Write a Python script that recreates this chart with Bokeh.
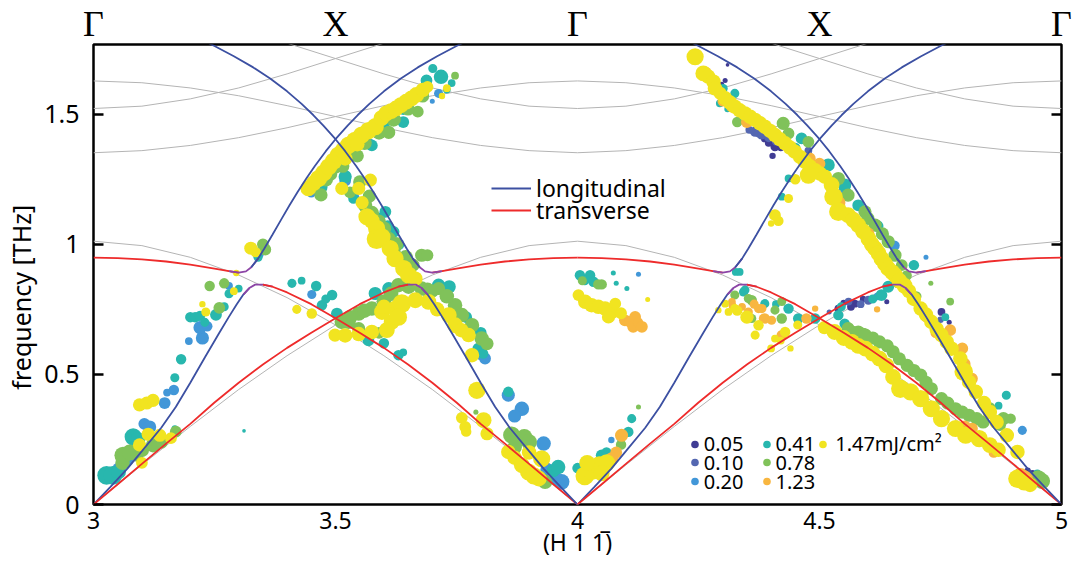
from bokeh.plotting import figure
from bokeh.models import (ColumnDataSource, Range1d, LinearAxis, FixedTicker, Legend, LegendItem)
from bokeh.embed import file_html
from bokeh.resources import INLINE

# ---------------- ticks / labels ----------------
y_ticks = [0, 0.5, 1, 1.5]
y_tick_labels = ["0", "0.5", "1", "1.5"]
x_ticks = [3, 3.5, 4, 4.5, 5]
x_tick_labels = ["3", "3.5", "4", "4.5", "5"]
top_labels = ["Γ", "X", "Γ", "X", "Γ"]
y_title = "frequency [THz]"
x_title = "(H 1 1\u0305)"
cell_starts = [3, 4]          # each Γ-X-Γ cell; model curves repeat in each cell

# ---------------- model dispersion curves (u = H - cell start) ----------------
low_u = [0, 0.035, 0.07, 0.10, 0.14, 0.17, 0.20, 0.23, 0.26, 0.28, 0.296, 0.31, 0.322, 0.334,
         0.35, 0.37, 0.40, 0.45, 0.50, 0.55, 0.60, 0.65, 0.70, 0.75, 0.80, 0.85, 0.90, 0.95, 1.0]
low_f = [0, 0.068, 0.138, 0.205, 0.295, 0.375, 0.468, 0.565, 0.66, 0.722, 0.77, 0.808, 0.832, 0.845,
         0.845, 0.837, 0.815, 0.77, 0.716, 0.66, 0.602, 0.538, 0.468, 0.392, 0.31, 0.234, 0.156, 0.078, 0]
up_u = [0, 0.05, 0.10, 0.15, 0.20, 0.25, 0.28, 0.30, 0.315, 0.326, 0.34, 0.353, 0.37, 0.388, 0.405,
        0.422, 0.44, 0.457, 0.48, 0.50, 0.525, 0.546, 0.57, 0.60, 0.635, 0.67, 0.71, 0.75, 0.78]
up_f = [0.949, 0.947, 0.942, 0.934, 0.922, 0.907, 0.897, 0.891, 0.896, 0.912, 0.945, 0.984, 1.038,
        1.096, 1.15, 1.202, 1.254, 1.30, 1.358, 1.404, 1.456, 1.497, 1.54, 1.588, 1.637, 1.68,
        1.723, 1.762, 1.79]
g_u = [0, 0.1, 0.2, 0.3, 0.4, 0.5, 0.6, 0.7, 0.8, 0.9, 1.0]
g_low_f = [0, 0.152, 0.30, 0.442, 0.572, 0.69, 0.795, 0.882, 0.95, 0.995, 1.012]
g_mid_f = [1.628, 1.621, 1.601, 1.571, 1.533, 1.491, 1.448, 1.41, 1.38, 1.36, 1.352]
g_top_u = [0, 0.1, 0.2, 0.3, 0.4, 0.5, 0.6, 0.7]
g_top_f = [1.522, 1.531, 1.559, 1.601, 1.655, 1.714, 1.773, 1.827]

# ---------------- measured points (H, frequency THz, relative marker size) ----------------
pts_005 = [(4.387,1.407,5),(4.408,1.375,6),(4.403,1.34,4),(4.44,1.36,4),(4.455,1.35,3),(4.305,1.63,3),
           (4.31,1.69,2),(4.298,1.615,3),(4.539,0.753,5),(4.573,0.772,5),(4.55,0.775,4),(4.59,0.79,4),
           (4.639,0.779,3),(4.565,0.76,5),(4.752,0.74,5),(4.76,0.72,4),(4.768,0.70,3),(4.94,0.118,5),
           (4.93,0.13,4),(4.395,1.39,5),(4.42,1.37,4)]
pts_010 = [(4.367,1.433,7),(4.375,1.43,7),(4.395,1.41,6),(4.41,1.395,5),(4.477,1.36,5),(4.46,1.345,4),
           (4.601,0.785,6),(4.56,0.78,5),(4.585,0.77,5),(4.743,0.689,5),(4.75,0.71,4),(4.52,0.74,3),
           (4.91,0.12,4),(4.38,1.42,6),(4.355,1.44,5)]
pts_020 = [(3.05,0.14,7),(3.07,0.17,8),(3.105,0.31,8),(3.116,0.298,9),(3.147,0.39,8),(3.152,0.43,5),
           (3.166,0.44,7),(3.197,0.628,5),(3.225,0.64,9),(3.22,0.68,9),(3.235,0.685,7),(3.26,0.75,6),
           (3.28,0.84,5),(3.34,0.965,8),(3.45,1.20,7),(3.47,1.21,6),(3.52,1.245,8),(3.54,1.18,6),
           (3.568,1.39,7),(3.70,1.55,3),(3.713,1.58,6),(3.451,0.807,6),(3.809,0.561,8),(3.80,0.575,7),
           (3.857,0.42,9),(3.885,0.368,10),(3.87,0.34,9),(3.93,0.234,10),(3.937,0.135,9),(3.967,0.087,11),
           (3.955,0.10,9),(4.07,0.248,4),(4.126,0.885,3),(4.55,1.20,8),(4.695,0.92,6),(4.72,0.95,3),
           (4.919,0.285,6),(4.62,0.80,5),(4.655,0.995,7)]
pts_041 = [(3.027,0.112,13),(3.04,0.112,13),(3.052,0.125,10),(3.082,0.26,12),(3.092,0.25,10),(3.168,0.292,4),
           (3.168,0.487,6),(3.181,0.558,7),(3.20,0.72,7),(3.21,0.72,7),(3.22,0.725,7),(3.23,0.70,6),
           (3.253,0.729,8),(3.27,0.76,6),(3.28,0.81,6),(3.30,0.83,5),(3.311,0.283,2),(3.34,0.95,6),
           (3.47,1.22,9),(3.50,1.33,7),(3.54,1.37,8),(3.56,1.40,8),(3.60,1.46,8),(3.64,1.52,8),
           (3.66,1.56,7),(3.68,1.575,8),(3.688,1.63,8),(3.701,1.676,6),(3.718,1.644,10),(3.73,1.595,5),
           (3.74,1.62,5),(3.52,1.26,9),(3.537,1.176,7),(3.603,1.125,8),(3.62,1.048,8),(3.63,1.0,8),
           (3.645,0.93,7),(3.41,0.85,6),(3.43,0.86,5),(3.46,0.84,7),(3.472,0.766,7),(3.48,0.79,6),
           (3.493,0.805,7),(3.503,0.734,8),(3.568,0.631,8),(3.60,0.62,7),(3.63,0.574,7),(3.64,0.585,5),
           (3.582,0.811,9),(3.61,0.83,9),(3.713,0.843,9),(3.735,0.837,9),(3.795,0.599,8),(3.805,0.58,7),
           (3.857,0.433,7),(3.95,0.13,9),(3.96,0.144,10),(4.0,0.14,7),(4.005,0.881,7),(4.015,0.86,6),
           (4.026,0.881,7),(4.033,0.856,7),(4.05,0.189,8),(4.06,0.20,7),(4.074,0.89,3),(4.08,0.85,3),
           (4.09,0.26,7),(4.102,0.83,3),(4.105,0.279,7),(4.112,0.33,6),(4.327,0.894,5),(4.335,0.894,5),
           (4.343,0.817,6),(4.346,0.824,6),(4.387,0.772,6),(4.41,0.77,5),(4.436,0.753,7),(4.456,0.715,7),
           (4.491,0.715,7),(4.539,0.728,7),(4.545,0.76,6),(4.552,0.695,7),(4.61,0.79,6),(4.628,0.805,8),
           (4.642,0.837,8),(4.66,0.85,6),(4.294,1.542,5),(4.301,1.599,6),(4.31,1.52,4),(4.325,1.58,6),
           (4.422,1.183,5),(4.436,1.253,5),(4.45,1.37,7),(4.463,1.407,8),(4.518,1.305,9),(4.552,1.228,9),
           (4.58,1.15,8),(4.62,1.07,8),(4.695,0.92,7),(4.74,0.69,6),(4.76,0.72,5),(4.87,0.38,5),
           (4.886,0.42,6),(4.95,0.12,5),(3.575,1.38,8),(3.64,1.47,8),(3.59,1.10,8),(3.608,1.07,8),
           (3.77,0.72,8),(3.80,0.66,8)]
pts_078 = [(3.06,0.16,10),(3.061,0.189,12),(3.075,0.20,11),(3.09,0.19,9),(3.10,0.21,10),(3.123,0.228,10),
           (3.14,0.24,9),(3.17,0.28,8),(3.26,0.756,8),(3.24,0.84,7),(3.27,0.85,7),(3.35,1.0,8),
           (3.355,0.98,8),(3.47,1.19,9),(3.48,1.25,10),(3.50,1.30,10),(3.53,1.35,10),(3.56,1.39,10),
           (3.59,1.43,10),(3.62,1.48,10),(3.65,1.52,9),(3.68,1.57,9),(3.747,1.648,5),(3.53,1.20,8),
           (3.55,1.24,9),(3.561,1.151,10),(3.575,1.12,10),(3.589,1.087,10),(3.60,1.06,10),(3.61,1.02,10),
           (3.62,0.97,10),(3.634,0.933,10),(3.65,0.90,9),(3.678,0.958,9),(3.69,0.958,8),(3.513,0.702,10),
           (3.527,0.702,10),(3.548,0.734,10),(3.548,0.676,9),(3.575,0.753,10),(3.59,0.66,8),(3.60,0.78,10),
           (3.63,0.843,10),(3.651,0.837,10),(3.678,0.83,10),(3.70,0.82,9),(3.713,0.83,9),(3.747,0.766,10),
           (3.761,0.728,10),(3.782,0.689,10),(3.802,0.638,10),(3.813,0.618,9),(3.79,0.355,3),(3.864,0.267,12),
           (3.875,0.25,12),(3.87,0.22,10),(3.89,0.26,11),(3.90,0.24,11),(3.933,0.087,10),(4.01,0.86,6),
           (4.02,0.13,9),(4.04,0.15,9),(4.043,0.846,7),(4.05,0.846,7),(4.09,0.23,7),(4.126,0.375,3),
           (4.325,0.805,6),(4.353,0.792,6),(4.36,0.785,7),(4.36,0.715,6),(4.408,0.747,6),(4.422,0.715,7),
           (4.422,0.78,6),(4.559,0.676,9),(4.567,0.663,9),(4.58,0.663,9),(4.59,0.651,10),(4.595,0.651,9),
           (4.624,0.625,9),(4.652,0.587,9),(4.681,0.535,9),(4.709,0.497,9),(4.731,0.445,9),(4.752,0.407,9),
           (4.781,0.368,9),(4.809,0.343,9),(4.838,0.317,9),(4.852,0.37,8),(4.873,0.305,8),(4.88,0.33,9),
           (4.895,0.33,7),(4.952,0.099,12),(4.96,0.09,11),(4.33,1.47,7),(4.425,1.465,9),(4.436,1.426,8),
           (4.477,1.394,8),(4.539,1.253,9),(4.559,1.189,9),(4.594,1.125,9),(4.615,1.074,9),(4.642,1.01,9),
           (4.656,0.958,9),(4.67,0.92,8),(4.68,0.88,7),(4.70,0.80,7),(4.73,0.85,3),(4.77,0.78,5),
           (3.49,1.27,9),(3.515,1.30,9),(3.545,1.34,9),(3.61,1.43,9),(3.67,1.51,8),(3.57,1.185,9),
           (3.625,1.0,10),(3.645,0.95,10),(3.66,0.92,9),(3.53,0.72,10),(3.56,0.745,10),(3.615,0.81,10),
           (3.69,0.825,10),(3.73,0.80,10),(4.61,0.64,9),(4.64,0.61,9),(4.665,0.56,9),(4.695,0.515,9),
           (4.72,0.47,9),(4.765,0.39,9),(4.795,0.355,9),(4.825,0.33,9),(4.60,1.10,9),(4.63,1.04,9)]
pts_123 = [(4.05,0.16,7),(4.071,0.176,9),(4.08,0.20,8),(4.091,0.266,9),(4.098,0.708,8),(4.109,0.702,8),
           (4.115,0.683,8),(4.119,0.721,8),(4.125,0.70,7),(4.133,0.683,8),(4.319,0.779,5),(4.32,0.765,5),
           (4.34,0.76,5),(4.353,0.74,6),(4.353,0.721,7),(4.365,0.77,6),(4.374,0.753,6),(4.381,0.753,6),
           (4.384,0.715,6),(4.387,0.715,7),(4.401,0.708,6),(4.422,0.651,7),(4.473,0.715,7),(4.491,0.753,4),
           (4.619,0.75,4),(4.265,1.66,8),(4.30,1.55,7),(4.319,1.529,8),(4.35,1.47,8),(4.48,1.33,8),
           (4.50,1.31,8),(4.54,1.16,9),(4.57,1.10,9),(4.60,1.04,9),(4.72,0.72,7),(4.74,0.66,7),
           (4.77,0.67,8),(4.795,0.60,8),(4.80,0.54,8),(4.815,0.484,8),(4.80,0.30,8),(4.815,0.292,8),
           (4.86,0.20,7),(4.915,0.11,11),(4.923,0.099,12)]
pts_147 = [(3.095,0.229,9),(3.113,0.27,9),(3.137,0.266,9),(3.16,0.255,8),(3.095,0.383,9),(3.11,0.39,9),
           (3.123,0.40,9),(3.232,0.74,6),(3.225,0.77,4),(3.295,0.89,4),(3.29,0.82,5),(3.325,0.985,9),
           (3.335,0.97,7),(3.10,0.16,8),
           (3.444,1.215,11),(3.455,1.235,11),(3.465,1.253,12),(3.476,1.275,12),(3.486,1.298,12),
           (3.496,1.32,12),(3.506,1.343,12),(3.516,1.36,12),(3.527,1.381,12),(3.54,1.40,12),(3.554,1.42,12),
           (3.568,1.437,12),(3.582,1.452,12),(3.595,1.485,11),(3.605,1.503,11),(3.615,1.512,11),
           (3.625,1.522,11),(3.635,1.535,11),(3.646,1.548,11),(3.657,1.561,11),(3.667,1.574,11),
           (3.68,1.593,10),(3.69,1.605,8),(3.73,1.60,5),(3.72,1.57,4),(3.52,1.33,10),(3.545,1.385,10),
           (3.513,1.215,9),(3.548,1.215,9),(3.572,1.247,9),(3.555,1.16,9),(3.565,1.106,12),(3.575,1.09,11),
           (3.585,1.061,12),(3.585,1.02,14),(3.596,1.029,12),(3.613,0.984,12),(3.623,0.945,12),
           (3.641,0.907,12),(3.651,0.882,12),(3.665,0.868,10),
           (3.596,0.74,11),(3.623,0.753,11),(3.637,0.772,13),(3.665,0.785,11),(3.692,0.779,11),
           (3.616,0.702,11),(3.63,0.72,12),(3.60,0.76,10),(3.499,0.651,9),(3.52,0.65,10),(3.548,0.655,10),
           (3.575,0.663,10),(3.606,0.67,11),(3.451,0.734,7),(3.42,0.75,6),(3.71,0.75,10),(3.734,0.728,11),
           (3.747,0.689,11),(3.76,0.67,10),(3.775,0.651,10),(3.782,0.574,10),(3.792,0.439,12),
           (3.761,0.333,8),(3.768,0.298,8),(3.77,0.28,7),(3.806,0.324,11),(3.813,0.272,9),(3.857,0.202,10),
           (3.87,0.18,10),(3.885,0.151,11),(3.899,0.125,12),(3.91,0.11,12),(3.926,0.176,12),(3.92,0.10,11),
           (3.90,0.20,10),
           (4.015,0.11,13),(4.03,0.13,13),(4.045,0.15,13),(4.06,0.16,12),(4.02,0.16,11),(4.05,0.12,11),
           (4.002,0.805,8),(4.016,0.779,10),(4.029,0.766,10),(4.043,0.76,10),(4.057,0.753,10),
           (4.071,0.74,10),(4.078,0.772,8),(4.064,0.721,9),(4.09,0.735,8),(4.145,0.788,3),
           (4.291,0.747,4),(4.305,0.772,5),(4.312,0.74,5),(4.325,0.753,6),(4.33,0.745,7),(4.35,0.72,9),
           (4.374,0.689,7),(4.367,0.651,6),(4.408,0.638,5),(4.42,0.63,5),(4.429,0.663,7),(4.455,0.69,6),
           (4.40,0.60,5),(4.44,0.60,4),
           (4.51,0.68,9),(4.531,0.663,11),(4.55,0.64,11),(4.567,0.625,11),(4.58,0.61,11),(4.595,0.599,11),
           (4.61,0.58,11),(4.624,0.561,11),(4.638,0.535,11),(4.652,0.49,11),(4.667,0.445,13),
           (4.688,0.433,12),(4.709,0.407,12),(4.731,0.368,12),(4.752,0.33,12),(4.781,0.292,12),
           (4.802,0.266,12),(4.83,0.253,12),(4.852,0.228,11),(4.87,0.21,10),
           (4.695,0.79,10),(4.709,0.753,10),(4.72,0.73,10),(4.731,0.702,10),(4.742,0.675,10),
           (4.752,0.651,10),(4.763,0.625,10),(4.773,0.599,10),(4.791,0.561,10),(4.798,0.51,13),
           (4.809,0.471,10),(4.823,0.433,10),(4.84,0.39,10),(4.852,0.356,10),(4.866,0.317,10),
           (4.887,0.266,10),(4.909,0.202,10),(4.909,0.099,13),(4.923,0.087,12),(4.935,0.075,10),
           (4.243,1.721,12),(4.26,1.657,11),(4.27,1.645,10),(4.281,1.625,10),(4.284,1.599,10),
           (4.295,1.58,9),(4.305,1.561,10),(4.315,1.545,10),(4.325,1.529,10),(4.335,1.515,10),
           (4.346,1.503,10),(4.357,1.49,10),(4.367,1.478,10),(4.377,1.465,10),(4.387,1.452,10),
           (4.398,1.436,10),(4.408,1.42,10),(4.418,1.404,10),(4.429,1.388,10),(4.439,1.372,10),
           (4.449,1.356,10),(4.46,1.336,10),(4.47,1.317,10),(4.48,1.30,10),(4.491,1.285,10),
           (4.501,1.272,10),(4.511,1.26,10),(4.525,1.228,11),(4.529,1.183,13),(4.539,1.125,13),
           (4.559,1.112,11),(4.57,1.093,11),(4.58,1.074,11),(4.59,1.05,11),(4.601,1.022,11),
           (4.608,1.0,11),(4.615,0.984,11),(4.622,0.965,11),(4.628,0.945,11),(4.635,0.926,11),
           (4.642,0.907,11),(4.65,0.893,11),(4.656,0.882,11),(4.665,0.86,11),(4.676,0.84,11),
           (4.685,0.82,10),(4.477,1.266,12),(4.436,1.176,6),(4.408,1.112,8),(4.415,1.09,7),
           (4.40,1.08,4),(4.45,1.25,7)]

fluence_labels = ["0.05", "0.10", "0.20", "0.41", "0.78", "1.23", "1.47mJ/cm²"]
fluence_points = [pts_005, pts_010, pts_020, pts_041, pts_078, pts_123, pts_147]
fluence_colors = ["#403c94", "#5467b1", "#4297d8", "#28b7ae", "#80c25a", "#f8b640", "#f1e420"]

# ---------------- figure ----------------
FONT = "Noto Sans"
p = figure(width=1078, height=558, frame_width=968, frame_height=460,
           min_border_left=92, min_border_right=18, min_border_top=43, min_border_bottom=55,
           x_range=Range1d(3, 5), y_range=Range1d(0, 1.768),
           output_backend="svg", toolbar_location=None, tools="")
p.xgrid.visible = False
p.ygrid.visible = False
p.outline_line_color = "black"
p.outline_line_width = 2.5
p.background_fill_color = "white"
p.border_fill_color = "white"

# left axis: ticks and tick labels
ya = p.yaxis[0]
ya.ticker = FixedTicker(ticks=y_ticks)
ya.major_label_overrides = {t: s for t, s in zip(y_ticks, y_tick_labels)}
ya.axis_line_color = None
ya.major_tick_in = 10
ya.major_tick_out = 0
ya.major_tick_line_width = 2.5
ya.major_tick_line_color = "black"
ya.minor_tick_line_color = None
ya.major_label_standoff = 14
ya.major_label_text_font = FONT
ya.major_label_text_font_size = "25px"
ya.major_label_text_color = "black"

# left axis title, on its own label-only axis (padded with no-break spaces so that,
# like the original, it sits a little below the frame centre)
ytitle = LinearAxis(ticker=FixedTicker(ticks=[]), axis_line_color=None,
                    major_tick_in=0, major_tick_out=0, minor_tick_line_color=None,
                    axis_label=y_title + "\u00a0" * 7, axis_label_standoff=4,
                    axis_label_text_font=FONT, axis_label_text_font_size="25px",
                    axis_label_text_font_style="normal", axis_label_text_color="black")
p.add_layout(ytitle, "left")

# right axis (ticks only)
ra = LinearAxis(ticker=FixedTicker(ticks=y_ticks), axis_line_color=None, major_tick_in=10,
                major_tick_out=0, major_tick_line_width=2.5, minor_tick_line_color=None,
                major_label_text_color=None, major_label_standoff=0)
p.add_layout(ra, "right")

# bottom axis
xa = p.xaxis[0]
xa.ticker = FixedTicker(ticks=x_ticks)
xa.major_label_overrides = {t: s for t, s in zip(x_ticks, x_tick_labels)}
xa.axis_line_color = None
xa.major_tick_in = 0
xa.major_tick_out = 0
xa.minor_tick_line_color = None
xa.major_tick_line_color = None
xa.major_label_standoff = 7
xa.major_label_text_font = FONT
xa.major_label_text_font_size = "23px"
xa.major_label_text_color = "black"
xa.axis_label = x_title
xa.axis_label_standoff = -6
xa.axis_label_text_font = FONT
xa.axis_label_text_font_size = "23px"
xa.axis_label_text_font_style = "normal"
xa.axis_label_text_color = "black"

# top axis: high-symmetry point labels
ta = LinearAxis(ticker=FixedTicker(ticks=x_ticks),
                major_label_overrides={t: s for t, s in zip(x_ticks, top_labels)},
                axis_line_color=None, major_tick_in=0, major_tick_out=0, major_tick_line_color=None,
                minor_tick_line_color=None, major_label_standoff=1,
                major_label_text_font="Liberation Serif", major_label_text_font_size="36px",
                major_label_text_color="black")
p.add_layout(ta, "above")

# ---------------- grey model branches ----------------
GREY = "#b4b4b4"
for c in cell_starts:
    for us, fs in ((g_u, g_low_f), (g_u, g_mid_f), (g_top_u, g_top_f)):
        p.line([c + u for u in us], fs, line_color=GREY, line_width=1)
        p.line([c + 1 - u for u in us], fs, line_color=GREY, line_width=1)

# ---------------- measured points ----------------
renderers = []
for pts, col in zip(fluence_points, fluence_colors):
    src = ColumnDataSource(dict(x=[q[0] for q in pts], y=[q[1] for q in pts],
                                s=[1 + 1.35 * q[2] for q in pts]))
    r = p.scatter("x", "y", size="s", source=src, fill_color=col, line_color=None)
    renderers.append(r)

# ---------------- coloured model branches ----------------
BLUE = "#3c50a2"
RED = "#ee2b2b"
PURPLE = "#8c45a6"


def seg(us, fs, lo, hi):
    return [(u, f) for u, f in zip(us, fs) if lo <= u <= hi]


long_r = None
trans_r = None
for c in cell_starts:
    for mirror in (False, True):
        def X(u):
            return c + (1 - u if mirror else u)
        b = seg(low_u, low_f, 0, 0.322)
        k = seg(low_u, low_f, 0.31, 0.37)
        r_ = seg(low_u, low_f, 0.35, 1.0)
        lr = p.line([X(u) for u, f in b], [f for u, f in b], line_color=BLUE, line_width=1.8)
        p.line([X(u) for u, f in k], [f for u, f in k], line_color=PURPLE, line_width=1.8)
        tr = p.line([X(u) for u, f in r_], [f for u, f in r_], line_color=RED, line_width=1.8)
        r2 = seg(up_u, up_f, 0, 0.30)
        k2 = seg(up_u, up_f, 0.28, 0.34)
        b2 = seg(up_u, up_f, 0.326, 1.0)
        p.line([X(u) for u, f in r2], [f for u, f in r2], line_color=RED, line_width=1.8)
        p.line([X(u) for u, f in k2], [f for u, f in k2], line_color=PURPLE, line_width=1.8)
        p.line([X(u) for u, f in b2], [f for u, f in b2], line_color=BLUE, line_width=1.8)
        if long_r is None:
            long_r, trans_r = lr, tr


# ---------------- legends ----------------
def make_legend(label, rend, left, bottom, gw, standoff, size):
    lg = Legend(items=[LegendItem(label=label, renderers=[rend])], location=(left, bottom),
                padding=0, margin=0, spacing=0, glyph_width=gw, glyph_height=40,
                label_height=40, label_standoff=standoff, label_text_font=FONT,
                label_text_font_size=size, label_text_color="black",
                background_fill_alpha=0, border_line_alpha=0, inactive_fill_alpha=0)
    p.add_layout(lg)


make_legend("longitudinal", long_r, 398, 295.8, 40, 5, "23px")
make_legend("transverse", trans_r, 398, 274.2, 40, 5, "23px")
leg_pos = [(591.8, 40.5, 0), (591.8, 22, 0), (591.8, 3, 0),
           (663.5, 40.5, 0), (663.5, 22, 0), (663.5, 3, 0), (720.2, 40.5, 3)]
for lab, rend, (lx, ly, so) in zip(fluence_labels, renderers, leg_pos):
    make_legend(lab, rend, lx, ly, 19, so, "20px")

open("out.html", "w").write(file_html(p, INLINE))
